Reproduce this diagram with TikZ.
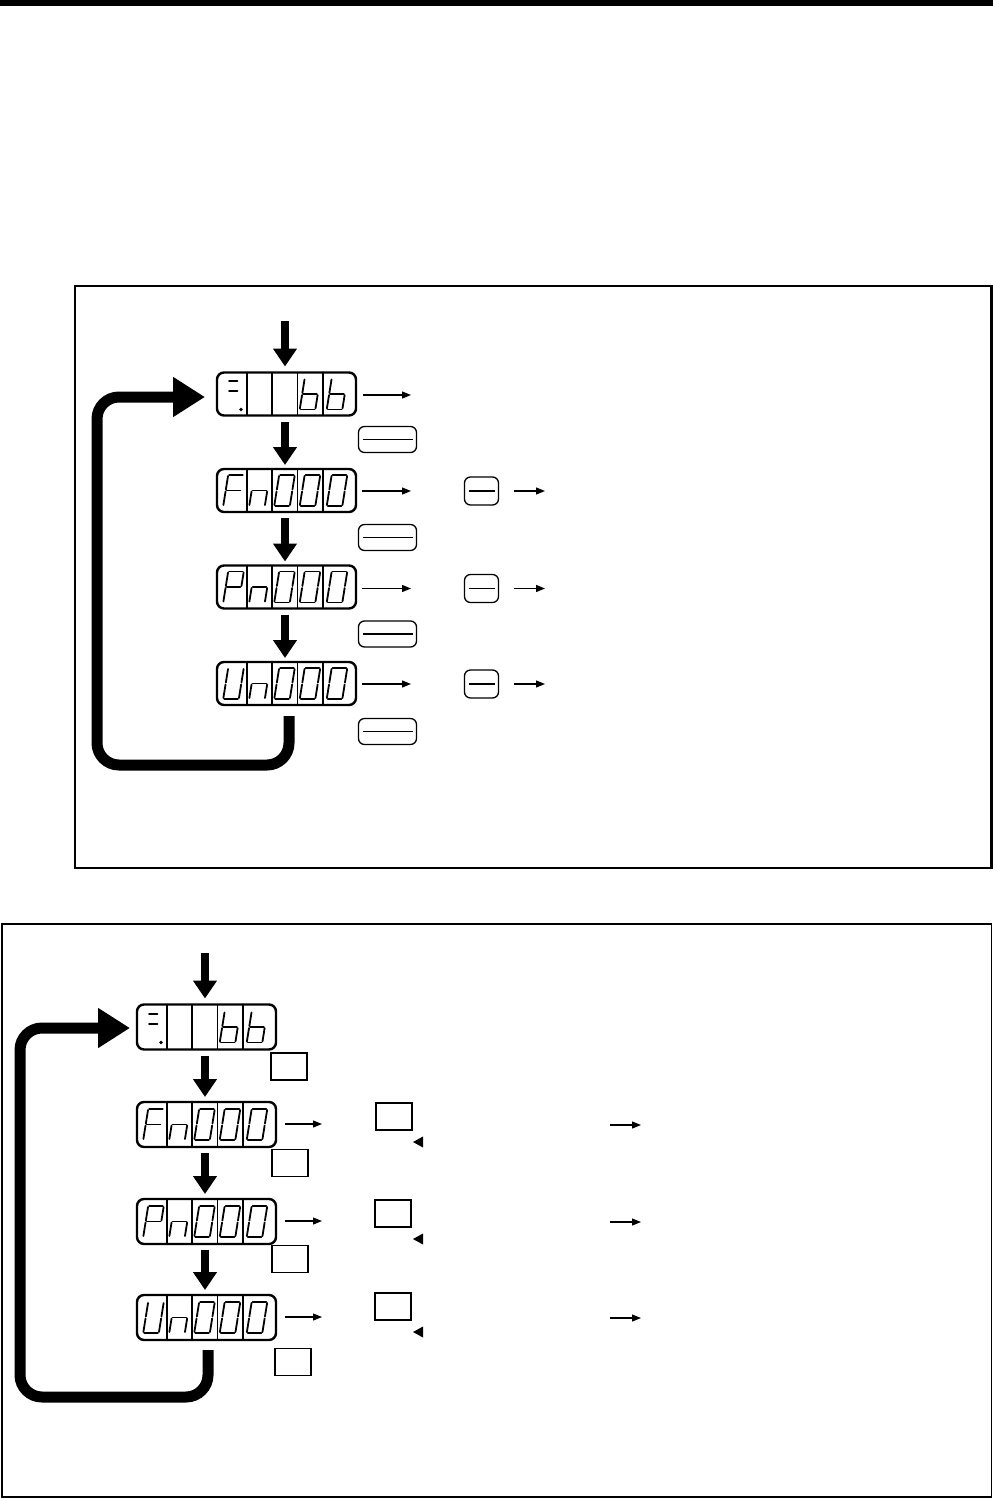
\documentclass[tikz,border=0pt]{standalone}
\usetikzlibrary{arrows.meta}
\tikzset{
  disp/.style={draw, line width=2.4pt, rounded corners=7pt, minimum width=139pt, minimum height=\DH pt, inner sep=0pt, outer sep=0pt},
  dig/.style={line width=1.8pt, line cap=round},
  divl/.style={line width=1.7pt},
  bigarr/.style={line width=8pt, -{Triangle[width=23pt,length=18pt]}},
  looparr/.style={line width=11pt, rounded corners=22pt, -{Triangle[width=38pt,length=32pt]}},
  thinarr/.style={line width=1.2pt, -{Triangle[width=7pt,length=9pt]}},
  keyr/.style={draw, line width=1.3pt, rounded corners=6pt, inner sep=0pt, outer sep=0pt},
  keys/.style={draw, line width=1.2pt, minimum width=36pt, minimum height=27pt, inner sep=0pt, outer sep=0pt},
  keyline/.style={line width=1.1pt},
  ltri/.style={fill=black},
}
\def\DH{43}
\newcommand\SegA{\draw[dig] (-6.8,-15.5)--(6.8,-15.5);}
\newcommand\SegB{\draw[dig] (7.8,-14.5)--(7.8,-1);}
\newcommand\SegC{\draw[dig] (7.8,1)--(7.8,14.5);}
\newcommand\SegD{\draw[dig] (-6.8,15.5)--(6.8,15.5);}
\newcommand\SegE{\draw[dig] (-7.8,1)--(-7.8,14.5);}
\newcommand\SegF{\draw[dig] (-7.8,-14.5)--(-7.8,-1);}
\newcommand\SegG{\draw[dig] (-6.8,0)--(6.8,0);}
\newcommand\DigitAt[3]{\begin{scope}[shift={(#1,#2)},xslant=0.16]\foreach \s in {#3}{\csname Seg\s\endcsname}\end{scope}}
\newcommand\Cells[1]{\foreach \o in {30,55,80.5,106}{\draw[divl] ([xshift=\o pt]#1.north west) -- ([xshift=\o pt]#1.south west);}}
\newcommand\Disp[4]{%
  \node[disp] (#1) at (#2+69.5,#3) {};
  \Cells{#1}
  \DigitAt{#2+16.5}{#3}{#4}
  \DigitAt{#2+42.5}{#3}{E,G,C}
  \DigitAt{#2+67.5}{#3}{A,B,C,D,E,F}
  \DigitAt{#2+93}{#3}{A,B,C,D,E,F}
  \DigitAt{#2+120}{#3}{A,B,C,D,E,F}}
\newcommand\DispBB[3]{%
  \node[disp] (#1) at (#2+69.5,#3) {};
  \Cells{#1}
  \draw[dig] (#2+12,#3-13) -- (#2+20.5,#3-13);
  \draw[dig] (#2+12,#3-3) -- (#2+20.5,#3-3);
  \fill (#2+24,#3+15.5) circle (1.8);
  \DigitAt{#2+93}{#3}{F,E,D,C,G}
  \DigitAt{#2+120}{#3}{F,E,D,C,G}}
\begin{document}
\begin{tikzpicture}[x=1pt,y=-1pt]
\useasboundingbox (0,0) rectangle (993,1499);
\fill (0,0) rectangle (993,6);
% ---------------- section 1 ----------------
\draw[line width=2.2pt] (75,286) rectangle (991.5,868);
\def\DH{43}
\DispBB{dA1}{217}{394}
\Disp{dA2}{217}{490.5}{A,F,E,G}
\Disp{dA3}{217}{587}{A,B,F,G,E}
\Disp{dA4}{217}{683.5}{F,E,D,C,B}
\coordinate (inA) at (285,321);
\draw[bigarr, shorten >=6pt] (inA) -- ([xshift=-1.5pt]dA1.north);
\draw[bigarr, shorten <=6pt, shorten >=4pt] ([xshift=-1.5pt]dA1.south) -- ([xshift=-1.5pt]dA2.north);
\draw[bigarr, shorten <=6pt, shorten >=4pt] ([xshift=-1.5pt]dA2.south) -- ([xshift=-1.5pt]dA3.north);
\draw[bigarr, shorten <=6pt, shorten >=4pt] ([xshift=-1.5pt]dA3.south) -- ([xshift=-1.5pt]dA4.north);
\draw[looparr, shorten >=12pt] ([xshift=2.5pt,yshift=-11pt]dA4.south) |- (97,765) |- ([yshift=-3pt]dA1.west);
% big keys
\foreach \n/\y in {1/439.5,2/537.5,3/634,4/731.5}{
  \node[keyr, minimum width=58pt, minimum height=26pt] (kA\n) at (387.5,\y) {};
  \draw[keyline] ([xshift=4pt]kA\n.west) -- ([xshift=-4pt]kA\n.east);
}
% row arrows
\coordinate (tA1) at (411,395);
\draw[thinarr, shorten <=7pt] ([yshift=-1pt]dA1.east) -- (tA1);
\foreach \n/\y in {2/491,3/588.5,4/684}{
  \coordinate (tA\n) at (411,\y);
  \draw[thinarr, shorten <=6pt] (dA\n.east |- tA\n) -- (tA\n);
  \node[keyr, minimum width=34pt, minimum height=28pt] (sA\n) at (481.5,\y) {};
  \draw[keyline] ([xshift=4pt]sA\n.west) -- ([xshift=-4pt]sA\n.east);
  \coordinate (uA\n) at (545,\y);
  \draw[thinarr, shorten <=15pt] (sA\n.east) -- (uA\n);
}
% ---------------- section 2 ----------------
\draw[line width=1.8pt] (2,924) rectangle (991.5,1497);
\def\DH{45}
\DispBB{dB1}{137}{1027}
\Disp{dB2}{137}{1124.5}{A,F,E,G}
\Disp{dB3}{137}{1221.5}{A,B,F,G,E}
\Disp{dB4}{137}{1317.5}{F,E,D,C,B}
\coordinate (inB) at (205,953);
\draw[bigarr, shorten >=6pt] (inB) -- ([xshift=-1.5pt]dB1.north);
\draw[bigarr, shorten <=6pt, shorten >=5pt] ([xshift=-1.5pt]dB1.south) -- ([xshift=-1.5pt]dB2.north);
\draw[bigarr, shorten <=6pt, shorten >=5pt] ([xshift=-1.5pt]dB2.south) -- ([xshift=-1.5pt]dB3.north);
\draw[bigarr, shorten <=6pt, shorten >=5pt] ([xshift=-1.5pt]dB3.south) -- ([xshift=-1.5pt]dB4.north);
\draw[looparr, shorten >=7pt] ([xshift=1.5pt,yshift=-10pt]dB4.south) |- (20,1397) |- ([yshift=-1pt]dB1.west);
% keys under displays
\node[keys] (qB1) at (289,1066.5) {};
\node[keys] (qB2) at (290,1163) {};
\node[keys] (qB3) at (290,1259) {};
\node[keys] (qB4) at (293,1362) {};
% row items
\foreach \n/\y/\ky/\kx in {2/1124/1116.5/394,3/1221/1213.5/393,4/1317/1306.5/393}{
  \coordinate (tB\n) at (322,\y);
  \draw[thinarr, shorten <=9pt] (dB\n.east |- tB\n) -- (tB\n);
  \node[keys] (sB\n) at (\kx,\ky) {};
  \fill[ltri] (413,\ky+25.5) -- (423,\ky+20) -- (423,\ky+31) -- cycle;
  \coordinate (vB\n) at (610,\y+1);
  \coordinate (wB\n) at (641,\y+1);
  \draw[thinarr] (vB\n) -- (wB\n);
}
\end{tikzpicture}
\end{document}
